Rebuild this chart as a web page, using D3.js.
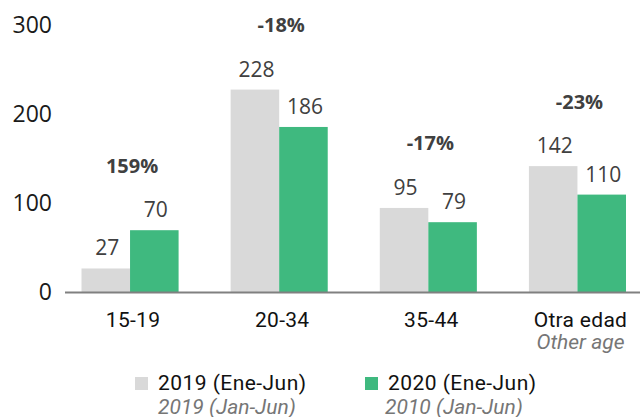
<!DOCTYPE html>
<html>
<head>
<meta charset="utf-8">
<script src="https://cdn.jsdelivr.net/npm/d3@7"></script>
<style>
  html, body { margin: 0; padding: 0; background: #fff; }
  svg { display: block; }
</style>
</head>
<body>
<svg id="chart" width="640" height="417"></svg>
<script>
// Age groups and yearly totals (January–June)
const categories = ["15-19", "20-34", "35-44", "Otra edad"];
const subLabels = ["", "", "", "Other age"];
const values2019 = [27, 228, 95, 142];
const values2020 = [70, 186, 79, 110];
const changeLabels = ["159%", "-18%", "-17%", "-23%"];
const yTicks = [0, 100, 200, 300];
const seriesNames = ["2019 (Ene-Jun)", "2020 (Ene-Jun)"];
const seriesSubNames = ["2019 (Jan-Jun)", "2010 (Jan-Jun)"];
const seriesColors = ["#d9d9d9", "#3fb97f"];

const svg = d3.select("#chart");

const y = d3.scaleLinear().domain([0, 300]).range([292.5, 25.5]);
const x = d3.scaleBand().domain(categories).range([81.5, 626]).paddingInner(0.349).paddingOuter(0);
const xs = d3.scaleBand().domain([0, 1]).range([0, x.bandwidth()]);

// Y tick labels
const yAxis = d3.axisLeft(y).tickValues(yTicks).tickSize(0).tickPadding(0);
const gy = svg.append("g").attr("transform", "translate(52,0)").call(yAxis);
gy.select(".domain").remove();
gy.selectAll("text")
  .attr("font-family", "'Open Sans', sans-serif")
  .attr("font-size", 23)
  .attr("fill", "#1a1a1a");

// Bars
const groups = svg.append("g").selectAll("g")
  .data(categories.map((c, i) => ({ c, i, v: [values2019[i], values2020[i]] })))
  .join("g")
  .attr("transform", d => `translate(${x(d.c)},0)`);

groups.selectAll("rect")
  .data(d => d.v.map((v, s) => ({ v, s })))
  .join("rect")
  .attr("x", d => xs(d.s))
  .attr("width", xs.bandwidth())
  .attr("y", d => y(d.v))
  .attr("height", d => y(0) - y(d.v))
  .attr("fill", d => seriesColors[d.s]);

// Value labels above bars
groups.selectAll("text.val")
  .data(d => d.v.map((v, s) => ({ v, s })))
  .join("text")
  .attr("class", "val")
  .attr("x", d => xs(d.s) + xs.bandwidth() / 2 + 1.5)
  .attr("y", d => y(d.v) - 13)
  .attr("text-anchor", "middle")
  .attr("font-family", "'Open Sans', sans-serif")
  .attr("font-size", 21)
  .attr("fill", "#404040")
  .text(d => d.v);

// Change labels
groups.append("text")
  .attr("x", x.bandwidth() / 2 + 2)
  .attr("y", d => y(Math.max(...d.v)) - 57.5)
  .attr("text-anchor", "middle")
  .attr("font-family", "'Open Sans', sans-serif")
  .attr("font-weight", "bold")
  .attr("font-size", 20)
  .attr("fill", "#404040")
  .text(d => changeLabels[d.i]);

// Baseline
svg.append("line")
  .attr("x1", 65).attr("x2", 640)
  .attr("y1", y(0)).attr("y2", y(0))
  .attr("stroke", "#808080")
  .attr("stroke-width", 2);

// Category labels
const xl = svg.append("g").selectAll("g")
  .data(categories.map((c, i) => ({ c, sub: subLabels[i] })))
  .join("g")
  .attr("transform", d => `translate(${x(d.c) + x.bandwidth() / 2 + 3},0)`);
xl.append("text")
  .attr("y", 327)
  .attr("text-anchor", "middle")
  .attr("font-family", "Roboto, sans-serif")
  .attr("font-size", 21)
  .attr("letter-spacing", 0.3)
  .attr("fill", "#111")
  .text(d => d.c);
xl.append("text")
  .attr("y", 349)
  .attr("text-anchor", "middle")
  .attr("font-family", "Roboto, sans-serif")
  .attr("font-style", "italic")
  .attr("font-size", 21)
  .attr("fill", "#767676")
  .text(d => d.sub);

// Legend
const legendX = [135, 365];
const leg = svg.append("g").selectAll("g")
  .data(seriesNames.map((n, i) => ({ n, i })))
  .join("g")
  .attr("transform", d => `translate(${legendX[d.i]},0)`);
leg.append("rect")
  .attr("x", 0).attr("y", 377)
  .attr("width", 13).attr("height", 13)
  .attr("fill", d => seriesColors[d.i]);
leg.append("text")
  .attr("x", 23).attr("y", 390)
  .attr("font-family", "Roboto, sans-serif")
  .attr("font-size", 21)
  .attr("letter-spacing", 0.45)
  .attr("fill", "#111")
  .text(d => d.n);
leg.append("text")
  .attr("x", d => d.i === 0 ? 23 : 20).attr("y", 413.5)
  .attr("font-family", "Roboto, sans-serif")
  .attr("font-style", "italic")
  .attr("font-size", 21)
  .attr("fill", "#767676")
  .text(d => seriesSubNames[d.i]);
</script>
</body>
</html>
